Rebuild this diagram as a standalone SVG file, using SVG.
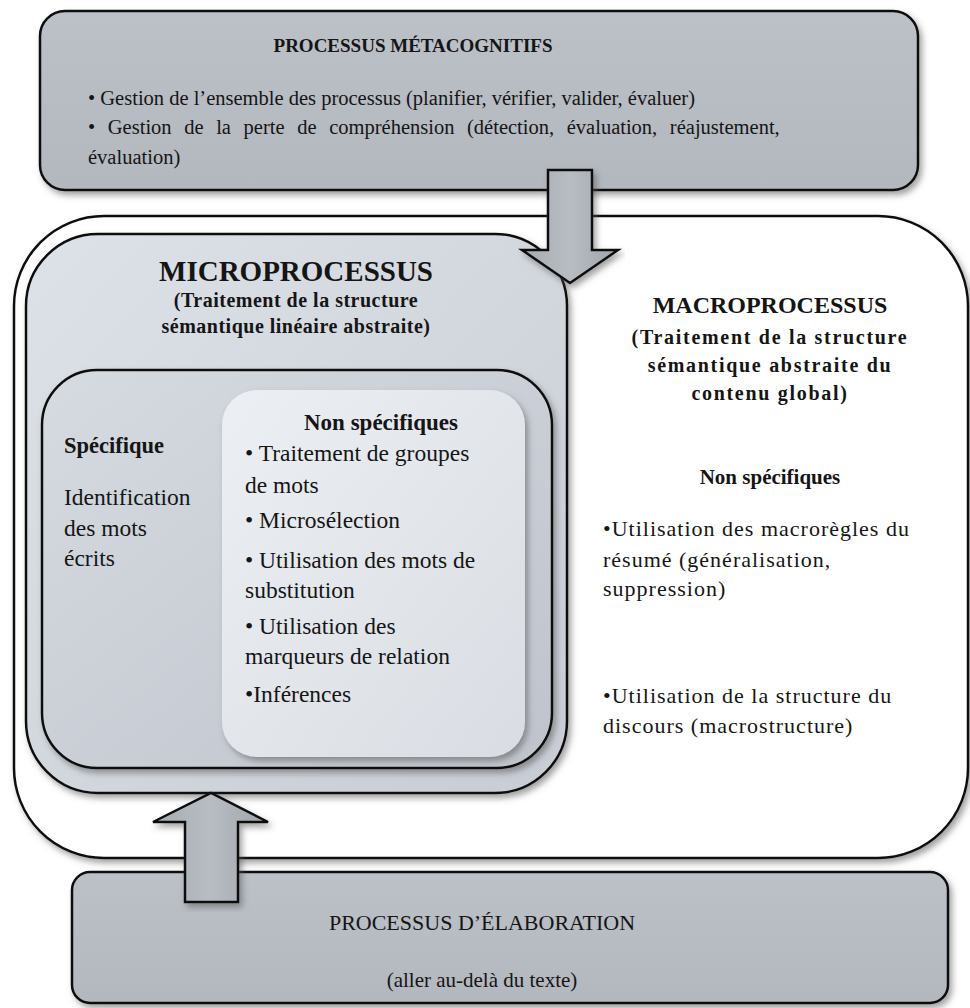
<svg xmlns="http://www.w3.org/2000/svg" width="970" height="1008" viewBox="0 0 970 1008">
<defs>
<style>
.t{font-family:"Liberation Serif","Times New Roman",serif;fill:#151515}
.b{font-weight:bold}
.m{text-anchor:middle}
.box{stroke:#111;stroke-width:2.5}
.arrow{stroke:#111;stroke-width:2.5;stroke-linejoin:miter}
.body{font-size:23.5px}
.mac{font-size:22px;letter-spacing:1px}
</style>
<linearGradient id="gDark" x1="0" y1="0" x2="0" y2="1">
<stop offset="0" stop-color="#bcc0c7"/><stop offset="1" stop-color="#b3b7be"/>
</linearGradient>
<linearGradient id="gMicro" x1="0" y1="0" x2="1" y2="1">
<stop offset="0" stop-color="#dde2e8"/><stop offset="1" stop-color="#c8cdd5"/>
</linearGradient>
<linearGradient id="gInner" x1="0" y1="0" x2="1" y2="1">
<stop offset="0" stop-color="#d6dbe2"/><stop offset="1" stop-color="#bfc4cc"/>
</linearGradient>
<linearGradient id="gNon" x1="0" y1="0" x2="1" y2="1">
<stop offset="0" stop-color="#eceff3"/><stop offset="1" stop-color="#d9dde3"/>
</linearGradient>
<linearGradient id="gArrow" x1="0" y1="0" x2="1" y2="0">
<stop offset="0" stop-color="#a6aab1"/><stop offset="0.5" stop-color="#b8bcc3"/><stop offset="1" stop-color="#9fa3aa"/>
</linearGradient>
<filter id="sh" x="-5%" y="-5%" width="112%" height="115%">
<feDropShadow dx="3" dy="4" stdDeviation="3" flood-color="#555" flood-opacity="0.55"/>
</filter>
</defs>
<rect width="970" height="1008" fill="#ffffff"/>

<g id="macroprocessus">
<rect class="box" x="14" y="216" width="954" height="642" rx="90" ry="90" fill="#ffffff" filter="url(#sh)"/>
<text class="t b m" x="770" y="313" font-size="24">MACROPROCESSUS</text>
<text class="t b m" x="770" y="344" font-size="20" letter-spacing="1.7">(Traitement de la structure</text>
<text class="t b m" x="770" y="372" font-size="20" letter-spacing="1.7">sémantique abstraite du</text>
<text class="t b m" x="770" y="400" font-size="20" letter-spacing="1.7">contenu global)</text>
<text class="t b m" x="770" y="484" font-size="21">Non spécifiques</text>
<text class="t mac" x="603" y="536">•Utilisation des macrorègles du</text>
<text class="t mac" x="603" y="567">résumé (généralisation,</text>
<text class="t mac" x="603" y="596">suppression)</text>
<text class="t mac" x="603" y="703">•Utilisation de la structure du</text>
<text class="t mac" x="603" y="733">discours (macrostructure)</text>
</g>

<g id="metacognitifs">
<rect class="box" x="40" y="11" width="878" height="179" rx="25" ry="25" fill="url(#gDark)" filter="url(#sh)"/>
<text class="t b m" x="413" y="52" font-size="19">PROCESSUS MÉTACOGNITIFS</text>
<text class="t" x="88" y="105" font-size="20.5">• Gestion de l’ensemble des processus (planifier, vérifier, valider, évaluer)</text>
<text class="t" x="88" y="134" font-size="20.5" word-spacing="7.5">• Gestion de la perte de compréhension (détection, évaluation, réajustement,</text>
<text class="t" x="88" y="164" font-size="20.5">évaluation)</text>
</g>

<g id="microprocessus">
<rect class="box" x="26" y="234" width="541" height="559" rx="72" ry="72" fill="url(#gMicro)" filter="url(#sh)"/>
<text class="t b m" x="296" y="281" font-size="29">MICROPROCESSUS</text>
<text class="t b m" x="296" y="307" font-size="20" letter-spacing="0.5">(Traitement de la structure</text>
<text class="t b m" x="296" y="333" font-size="20" letter-spacing="0.5">sémantique linéaire abstraite)</text>
</g>

<g id="traitement">
<rect class="box" x="42" y="370" width="510" height="398" rx="55" ry="55" fill="url(#gInner)" filter="url(#sh)"/>
</g>

<g id="specifique">
<text class="t b" x="64" y="453" font-size="22.5">Spécifique</text>
<text class="t body" x="64" y="505">Identification</text>
<text class="t body" x="64" y="536">des mots</text>
<text class="t body" x="64" y="566">écrits</text>
</g>

<g id="non-specifiques">
<rect x="222" y="390" width="303" height="367" rx="35" ry="35" fill="url(#gNon)" filter="url(#sh)"/>
<text class="t b m" x="381" y="430" font-size="23">Non spécifiques</text>
<text class="t body" x="245" y="461">• Traitement de groupes</text>
<text class="t body" x="245" y="493">de mots</text>
<text class="t body" x="245" y="528">• Microsélection</text>
<text class="t body" x="245" y="568">• Utilisation des mots de</text>
<text class="t body" x="245" y="598">substitution</text>
<text class="t body" x="245" y="634">• Utilisation des</text>
<text class="t body" x="245" y="664">marqueurs de relation</text>
<text class="t body" x="245" y="702">•Inférences</text>
</g>

<g id="elaboration">
<rect class="box" x="72" y="872" width="876" height="131" rx="18" ry="18" fill="url(#gDark)" filter="url(#sh)"/>
<text class="t m" x="482" y="930" font-size="22">PROCESSUS D’ÉLABORATION</text>
<text class="t m" x="482" y="987" font-size="21">(aller au-delà du texte)</text>
</g>

<g id="connectors">
<polygon class="arrow" points="548,170 592,170 592,250 618,250 570,283 522,250 548,250" fill="url(#gArrow)" filter="url(#sh)"/>
<polygon class="arrow" points="185,902 238,902 238,822 268,822 211,793 153,822 185,822" fill="url(#gArrow)" filter="url(#sh)"/>
</g>
</svg>
